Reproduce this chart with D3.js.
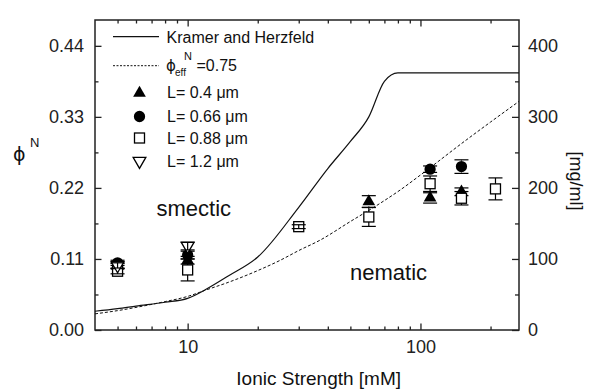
<!DOCTYPE html>
<html><head><meta charset="utf-8">
<script src="https://cdn.jsdelivr.net/npm/d3@7"></script>
<style>body{margin:0;background:#fff}svg{display:block;font-family:"Liberation Sans",Arial,sans-serif}</style>
</head><body><svg id="c" width="594" height="391"></svg>
<script>
// ---- data ----
const khX=[4,5,6,8,10,12,15,20,30,40,50,60,70,80,265];
const khY=[0.029,0.033,0.037,0.043,0.049,0.063,0.084,0.113,0.19,0.25,0.292,0.33,0.385,0.398,0.398];
const effX=[4,5,6,8,10,12,15,20,25,30,37,50,67,82,100,157,200,265];
const effY=[0.025,0.030,0.035,0.044,0.052,0.062,0.074,0.092,0.108,0.123,0.139,0.168,0.196,0.217,0.24,0.294,0.322,0.354];

const triX=[5,10,60,110,150];
const triY=[0.099,0.108,0.199,0.2045,0.214];
const triE=[0.004,0.006,0.009,0.008,0.006];
const cirX=[5,10,110,150];
const cirY=[0.104,0.116,0.249,0.253];
const cirE=[0.004,0.006,0.005,0.0105];
const sqX=[5,10,30,60,110,150,210];
const sqY=[0.091,0.093,0.160,0.175,0.2265,0.204,0.2185];
const sqE=[0.004,0.017,0.003,0.0146,0.012,0.0104,0.017];
const dtX=[5,10];
const dtY=[0.100,0.130];
const dtE=[0.004,0.006];

const xMajor=[10,100];
const xMinor=[5,6,7,8,9,20,30,40,50,60,70,80,90,200];
const yMajor=[0,0.11,0.22,0.33,0.44];
const yMinor=[0.055,0.165,0.275,0.385];
const rMajor=[0,100,200,300,400];
const rMinor=[50,150,250,350];

const legendLabels=["Kramer and Herzfeld","=0.75","L= 0.4 \u03bcm","L= 0.66 \u03bcm","L= 0.88 \u03bcm","L= 1.2 \u03bcm"];

// ---- chart ----
const svg=d3.select("#c");
const L=95,R=519,T=20,B=330;
const x=d3.scaleLog().domain([4,265]).range([L,R]);
const y=d3.scaleLinear().domain([0,0.48]).range([B,T]);
const yr=d3.scaleLinear().domain([0,0.48/0.11*100]).range([B,T]);
const ink="#222";
const PHI="\u03d5";

function styleAxis(g){g.select(".domain").remove();g.selectAll("line").attr("stroke",ink).attr("stroke-width",1.3);g.selectAll("text").attr("fill",ink).style("font-size","18px").style("font-family","'Liberation Sans',Arial,sans-serif");}

svg.append("g").attr("transform",`translate(0,${B})`).call(d3.axisBottom(x).tickValues(xMajor).tickFormat(d3.format("d")).tickSize(-6.5).tickPadding(10).tickSizeOuter(0)).call(styleAxis);
svg.append("g").attr("transform",`translate(0,${B})`).call(d3.axisBottom(x).tickValues(xMinor).tickFormat("").tickSize(-3.5).tickSizeOuter(0)).call(styleAxis);
svg.append("g").attr("transform",`translate(0,${T})`).call(d3.axisTop(x).tickValues(xMajor).tickFormat("").tickSize(-6.5).tickSizeOuter(0)).call(styleAxis);
svg.append("g").attr("transform",`translate(0,${T})`).call(d3.axisTop(x).tickValues(xMinor).tickFormat("").tickSize(-3.5).tickSizeOuter(0)).call(styleAxis);
svg.append("g").attr("transform",`translate(${L},0)`).call(d3.axisLeft(y).tickValues(yMajor).tickFormat(d3.format(".2f")).tickSize(-6.5).tickPadding(11).tickSizeOuter(0)).call(styleAxis);
svg.append("g").attr("transform",`translate(${L},0)`).call(d3.axisLeft(y).tickValues(yMinor).tickFormat("").tickSize(-3.5).tickSizeOuter(0)).call(styleAxis);
svg.append("g").attr("transform",`translate(${R},0)`).call(d3.axisRight(yr).tickValues(rMajor).tickFormat(d3.format("d")).tickSize(-7).tickPadding(9).tickSizeOuter(0)).call(styleAxis);
svg.append("g").attr("transform",`translate(${R},0)`).call(d3.axisRight(yr).tickValues(rMinor).tickFormat("").tickSize(-4).tickSizeOuter(0)).call(styleAxis);

svg.append("rect").attr("x",L).attr("y",T).attr("width",R-L).attr("height",B-T).attr("fill","none").attr("stroke",ink).attr("stroke-width",1.5);

// curves
const line=d3.line().x(d=>x(d[0])).y(d=>y(d[1])).curve(d3.curveMonotoneX);
svg.append("path").datum(khX.map((v,i)=>[v,khY[i]])).attr("d",line).attr("fill","none").attr("stroke","#111").attr("stroke-width",1.2);
svg.append("path").datum(effX.map((v,i)=>[v,effY[i]])).attr("d",line).attr("fill","none").attr("stroke","#111").attr("stroke-width",1).attr("stroke-dasharray","3,2");

// markers
const symTri=d3.symbol().type(d3.symbolTriangle).size(70)();
const symCir=d3.symbol().type(d3.symbolCircle).size(100)();
function drawSeries(xs,ys,es,kind){
  const g=svg.append("g");
  const half={tri:5,cir:6,sq:5,dt:5}[kind];
  xs.forEach((xv,i)=>{
    const cx=x(xv),cy=y(ys[i]);
    if(kind==="sq"){g.append("rect").attr("x",cx-5).attr("y",cy-5).attr("width",10).attr("height",10).attr("fill","#fff").attr("stroke","#000").attr("stroke-width",1.3);}
    else if(kind==="tri"){g.append("path").attr("d",symTri).attr("transform",`translate(${cx},${cy})`).attr("fill","#000");}
    else if(kind==="dt"){g.append("path").attr("d",symTri).attr("transform",`translate(${cx},${cy}) rotate(180)`).attr("fill","#fff").attr("stroke","#000").attr("stroke-width",1.3);}
    else {g.append("path").attr("d",symCir).attr("transform",`translate(${cx},${cy})`).attr("fill","#000");}
    const yt=y(ys[i]+es[i]),yb=y(ys[i]-es[i]);
    const eg=g.append("g").attr("stroke","#000").attr("stroke-width",1.2);
    if(cy-yt<=half){eg.append("line").attr("x1",cx).attr("x2",cx).attr("y1",yt).attr("y2",yb);}
    else{eg.append("line").attr("x1",cx).attr("x2",cx).attr("y1",yt).attr("y2",cy-half);
         eg.append("line").attr("x1",cx).attr("x2",cx).attr("y1",cy+half).attr("y2",yb);}
    eg.append("line").attr("x1",cx-7).attr("x2",cx+7).attr("y1",yt).attr("y2",yt);
    eg.append("line").attr("x1",cx-7).attr("x2",cx+7).attr("y1",yb).attr("y2",yb);
  });
}
drawSeries(triX,triY,triE,"tri");
drawSeries(cirX,cirY,cirE,"cir");
drawSeries(sqX,sqY,sqE,"sq");
drawSeries(dtX,dtY,dtE,"dt");

// legend
const lg=svg.append("g").style("font-size","16px").attr("fill","#111");
lg.append("line").attr("x1",113).attr("x2",159).attr("y1",36.7).attr("y2",36.7).attr("stroke","#111").attr("stroke-width",1.2);
lg.append("text").attr("x",166.5).attr("y",42.7).text(legendLabels[0]);
lg.append("line").attr("x1",113).attr("x2",159).attr("y1",65.7).attr("y2",65.7).attr("stroke","#111").attr("stroke-width",1).attr("stroke-dasharray","2,1.5");
lg.append("text").attr("x",166).attr("y",71).style("font-family","'DejaVu Sans',sans-serif").style("font-size","15px").text(PHI);
lg.append("text").attr("x",175).attr("y",76).style("font-size","10px").text("eff");
lg.append("text").attr("x",184).attr("y",60).style("font-size","11px").text("N");
lg.append("text").attr("x",196.5).attr("y",71).text(legendLabels[1]);
lg.append("path").attr("d",symTri).attr("transform","translate(139.5,93)").attr("fill","#000");
lg.append("path").attr("d",symCir).attr("transform","translate(139.5,116.5)").attr("fill","#000");
lg.append("rect").attr("x",134.5).attr("y",133).attr("width",10).attr("height",10).attr("fill","#fff").attr("stroke","#000").attr("stroke-width",1.3);
lg.append("path").attr("d",symTri).attr("transform","translate(139.5,161) rotate(180)").attr("fill","#fff").attr("stroke","#000").attr("stroke-width",1.3);
[98.3,121.7,144,166.7].forEach((yy,i)=>lg.append("text").attr("x",167).attr("y",yy).text(legendLabels[i+2]));

// region labels
svg.append("text").attr("x",156.5).attr("y",216).style("font-size","22px").attr("fill","#111").text("smectic");
svg.append("text").attr("x",350).attr("y",280).style("font-size","22px").attr("fill","#111").text("nematic");

// axis titles
svg.append("text").attr("x",318.7).attr("y",385).attr("text-anchor","middle").style("font-size","19px").attr("fill","#111").text("Ionic Strength [mM]");
svg.append("text").attr("x",13).attr("y",161).style("font-family","'DejaVu Sans',sans-serif").style("font-size","19px").attr("fill","#111").text(PHI);
svg.append("text").attr("x",30).attr("y",147).style("font-size","13px").attr("fill","#111").text("N");
svg.append("text").attr("transform","translate(570,181) rotate(90)").attr("text-anchor","middle").style("font-size","18px").attr("fill","#111").text("[mg/ml]");
</script></body></html>
